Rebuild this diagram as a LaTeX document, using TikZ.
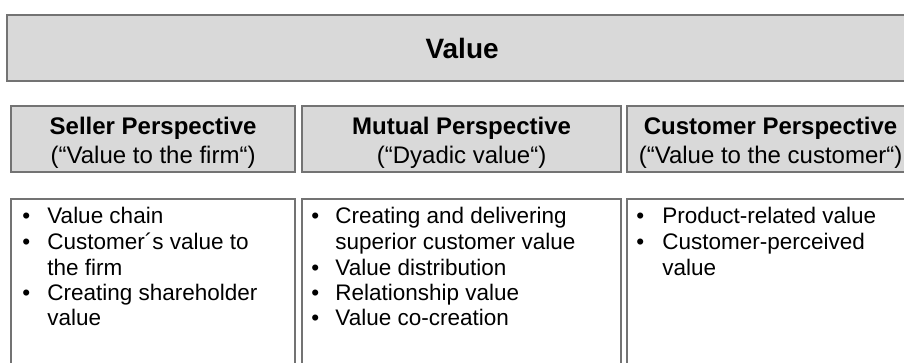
\documentclass[tikz,border=0pt]{standalone}
\usepackage{fontspec}
\setmainfont{Liberation Sans}
\usetikzlibrary{positioning}
\tikzset{
	box/.style={rectangle, draw=black!55, line width=1.1pt, inner sep=0pt, anchor=north west},
	head/.style={box, fill=black!15, minimum height=33pt, align=center,
		font=\fontsize{12}{14.5}\selectfont},
	persp/.style={head, text height=26.6pt},
	body/.style={box, fill=white, minimum height=95pt},
	list/.style={anchor=base west, inner sep=0pt, font=\fontsize{11.25}{12.75}\selectfont},
}
\newcommand{\bul}{\textbullet &}

\begin{document}
\begin{tikzpicture}[x=0.5pt, y=-0.5pt]
	\useasboundingbox (0,0) rectangle (904,363);
	% value bar
	\node[head, minimum width=455pt, font=\bfseries\fontsize{14}{16}\selectfont] (value) at (6,14) {Value};
	% perspectives
	\node[persp, minimum width=142pt] (seller) at (10,105) {\textbf{Seller Perspective}\\(“Value to the firm“)};
	\node[persp, minimum width=159.5pt] (mutual) at (301,105) {\textbf{Mutual Perspective}\\(“Dyadic value“)};
	\node[persp, minimum width=143.5pt] (customer) at (626,105) {\textbf{Customer Perspective}\\(“Value to the customer“)};
	% seller
	\node[body, minimum width=142pt] (sellerBox) at (10,198) {};
	\node[list] (sellerList) at ([shift={(12,26)}]sellerBox.north west) {%
		\begin{tabular}[t]{@{}p{12.5pt}@{}l@{}}
			\bul Value chain\\
			\bul Customer´s value to\\
			& the firm\\
			\bul Creating shareholder\\
			& value
		\end{tabular}};
	% mutual
	\node[body, minimum width=159.5pt] (mutualBox) at (301,198) {};
	\node[list] (mutualList) at ([shift={(10,26)}]mutualBox.north west) {%
		\begin{tabular}[t]{@{}p{12pt}@{}l@{}}
			\bul Creating and delivering\\
			& superior customer value\\
			\bul Value distribution\\
			\bul Relationship value\\
			\bul Value co-creation
		\end{tabular}};
	% customer
	\node[body, minimum width=143.5pt] (customerBox) at (626,198) {};
	\node[list] (customerList) at ([shift={(10,26)}]customerBox.north west) {%
		\begin{tabular}[t]{@{}p{13pt}@{}l@{}}
			\bul Product-related value\\
			\bul Customer-perceived\\
			& value
		\end{tabular}};
\end{tikzpicture}
\end{document}
